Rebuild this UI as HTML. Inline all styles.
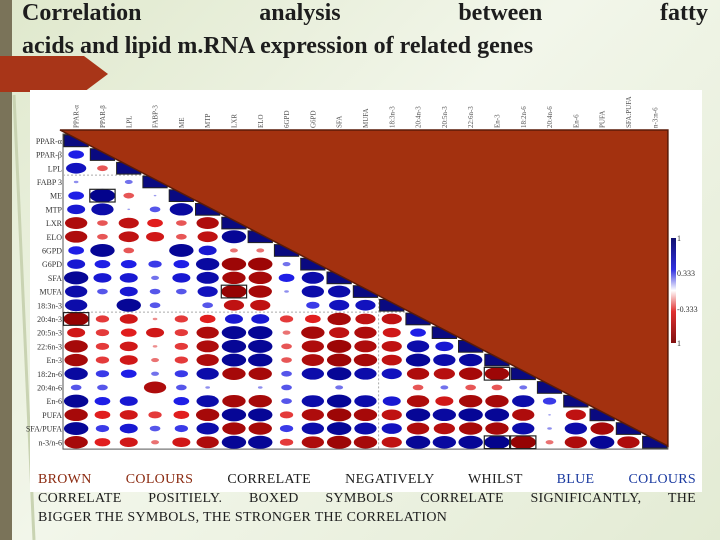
<!DOCTYPE html>
<html><head><meta charset="utf-8">
<style>
body{margin:0;width:720px;height:540px;overflow:hidden;background:#e6edd8;font-family:"Liberation Serif",serif;position:relative}
#bg{position:absolute;left:0;top:0;width:720px;height:540px;background:linear-gradient(135deg,#dfe8cc 0%,#f2f6ea 45%,#e3ebd4 100%)}
#strip{position:absolute;left:0;top:0;width:12px;height:540px;background:#7a7359}
.title{position:absolute;left:22px;width:686px;font-weight:bold;font-size:24px;color:#1d1d1d;line-height:33px}
.cap{position:absolute;left:38px;width:658px;font-size:14px;color:#1d1d1d;text-align:justify;text-align-last:justify;letter-spacing:0.3px}
</style></head><body>
<div id="bg"></div>
<div id="strip"></div>
<svg style="position:absolute;left:0;top:0" width="720" height="540">
<line x1="14" y1="95" x2="34" y2="540" stroke="#c9d3b2" stroke-width="3"/>
<polygon points="0,56 84,56 108,74 84,92 0,92" fill="#a83518"/>
</svg>
<div class="title" style="top:-3px;text-align:justify;text-align-last:justify">Correlation analysis between fatty</div>
<div class="title" style="top:30px">acids and lipid m.RNA expression of related genes</div>
<svg id="chart" style="position:absolute;left:0;top:0" width="720" height="540"></svg>
<div class="cap" style="top:472px"><span style="color:#8b2a10">BROWN COLOURS</span> CORRELATE NEGATIVELY WHILST <span style="color:#1a3aa0">BLUE COLOURS</span></div>
<div class="cap" style="top:491px">CORRELATE POSITIELY. BOXED SYMBOLS CORRELATE SIGNIFICANTLY, THE</div>
<div class="cap" style="top:510px;text-align-last:left">BIGGER THE SYMBOLS, THE STRONGER THE CORRELATION</div>
<script>
const rowLabels=["PPAR-α","PPAR-β","LPL","FABP 3","ME","MTP","LXR","ELO","6GPD","G6PD","SFA","MUFA","18:3n-3","20:4n-3","20:5n-3","22:6n-3","En-3","18:2n-6","20:4n-6","En-6","PUFA","SFA/PUFA","n-3/n-6"];
const colLabels=["PPAR-α","PPAR-β","LPL","FABP-3","ME","MTP","LXR","ELO","6GPD","G6PD","SFA","MUFA","18:3n-3","20:4n-3","20:5n-3","22:6n-3","En-3","18:2n-6","20:4n-6","En-6","PUFA","SFA:PUFA","n-3:n-6"];
const corr=[
[],
[0.5],
[0.7,-0.3],
[0.1,0,0.2],
[0.5,0.95,-0.3,0.05],
[0.6,0.8,0.05,0.3,0.85],
[-0.8,-0.3,-0.7,-0.5,-0.3,-0.8],
[-0.8,-0.3,-0.7,-0.6,-0.3,-0.7,0.9],
[0.5,0.9,-0.3,0,0.9,0.6,-0.2,-0.2],
[0.6,0.5,0.5,0.4,0.5,0.85,-0.9,-0.9,0.2],
[0.9,0.6,0.6,0.2,0.6,0.8,-0.85,-0.85,0.5,0.8],
[0.8,0.3,0.6,0.3,0.3,0.7,-0.95,-0.85,0.1,0.8,0.8],
[0.8,0,0.9,0.3,0,0.3,-0.7,-0.7,0,0.4,0.7,0.7],
[-0.95,-0.4,-0.6,-0.1,-0.4,-0.5,0.6,0.6,-0.4,-0.5,-0.85,-0.7,-0.7],
[-0.6,-0.4,-0.5,-0.6,-0.4,-0.8,0.9,0.9,-0.2,-0.85,-0.7,-0.8,-0.6,0.5],
[-0.85,-0.4,-0.6,-0.1,-0.4,-0.8,0.9,0.9,-0.3,-0.8,-0.9,-0.8,-0.7,0.8,0.6],
[-0.85,-0.4,-0.6,-0.2,-0.4,-0.8,0.9,0.9,-0.3,-0.8,-0.9,-0.85,-0.7,0.9,0.8,0.85],
[0.85,0.4,0.5,0.2,0.4,0.8,-0.85,-0.85,0.3,0.8,0.9,0.8,0.7,-0.8,-0.75,-0.85,-0.9],
[0.3,0.3,0,-0.8,0.3,0.1,0,0.1,0.3,0,0.2,0,0,-0.3,0.2,-0.3,-0.3,0.2],
[0.9,0.5,0.6,0,0.5,0.8,-0.85,-0.85,0.3,0.8,0.9,0.8,0.6,-0.8,-0.6,-0.85,-0.85,0.8,0.4],
[-0.85,-0.5,-0.6,-0.4,-0.5,-0.85,0.9,0.9,-0.4,-0.8,-0.9,-0.85,-0.7,0.9,0.85,0.9,0.9,-0.8,0.05,-0.7],
[0.9,0.4,0.6,0.3,0.4,0.8,-0.85,-0.85,0.4,0.8,0.9,0.8,0.7,-0.8,-0.75,-0.85,-0.85,0.8,0.1,0.8,-0.85],
[-0.85,-0.5,-0.6,-0.2,-0.6,-0.8,0.9,0.9,-0.4,-0.8,-0.9,-0.85,-0.7,0.9,0.85,0.9,0.95,-0.95,-0.2,-0.8,0.9,-0.8]
];
const boxed=[[4,1],[11,6],[13,0],[17,16],[22,16],[22,17]];
const NS="http://www.w3.org/2000/svg";
const svg=document.getElementById('chart');
function mk(t,a){const e=document.createElementNS(NS,t);for(const k in a)e.setAttribute(k,a[k]);svg.appendChild(e);return e;}
const X0=63,Y0=134,CW=26.3,RH=13.7,N=23;
const cx=c=>X0+CW*(c+0.5), cy=r=>Y0+RH*(r+0.5);
function lerp(a,b,t){return Math.round(a+(b-a)*t);}
function col(v){const a=Math.min(1,Math.abs(v));
 if(v>=0){ if(a<0.5){const t=a/0.5;return `rgb(${lerp(170,30,t)},${lerp(170,30,t)},${lerp(240,230,t)})`;}
  const t=(a-0.5)/0.5;return `rgb(${lerp(30,0,t)},${lerp(30,0,t)},${lerp(230,130,t)})`;}
 if(a<0.5){const t=a/0.5;return `rgb(${lerp(240,225,t)},${lerp(170,30,t)},${lerp(170,30,t)})`;}
 const t=(a-0.5)/0.5;return `rgb(${lerp(225,140,t)},${lerp(30,0,t)},${lerp(30,0,t)})`;}
const bgRect=mk('rect',{x:30,y:90,width:672,height:402,fill:'#fff'});


const frame=mk('rect',{x:X0,y:Y0,width:CW*N,height:RH*N,fill:'none',stroke:'#555','stroke-width':1});


mk('line',{x1:X0,y1:Y0+RH*3,x2:X0+CW*13,y2:Y0+RH*3,stroke:'#aaa','stroke-dasharray':'2,2'});
mk('line',{x1:X0,y1:Y0+RH*13,x2:X0+CW*13,y2:Y0+RH*13,stroke:'#aaa','stroke-dasharray':'2,2'});
mk('line',{x1:X0+CW*12,y1:Y0+RH*12,x2:X0+CW*12,y2:Y0+RH*N,stroke:'#aaa','stroke-dasharray':'2,2'});
rowLabels.forEach((l,r)=>{const t=mk('text',{x:X0-1,y:cy(r)+3,'text-anchor':'end','font-size':8,fill:'#333'});t.textContent=l;

});
colLabels.forEach((l,c)=>{const t=mk('text',{x:0,y:0,'text-anchor':'start','font-size':7,fill:'#555',transform:`translate(${cx(c)+2.5},${Y0-6}) rotate(-90)`});t.textContent=l;

});
corr.forEach((row,r)=>{row.forEach((v,c)=>{const a=Math.abs(v);if(a<0.03)return;
 const s=Math.pow(a,0.75);
 const e=mk('ellipse',{cx:cx(c),cy:cy(r),rx:13.2*s,ry:7*s,fill:col(v)});
 
 });
 const d=mk('rect',{x:X0+CW*r+1,y:Y0+RH*r+1,width:CW-2,height:RH-2,fill:'#0a0a80',stroke:'#222'});
 
 });
boxed.forEach(([r,c])=>{const b=mk('rect',{x:X0+CW*c+0.5,y:Y0+RH*r+0.5,width:CW-1,height:RH-1,fill:'none',stroke:'#222','stroke-width':1.2});

});
const tri=mk('polygon',{points:`${X0-3},${Y0-4} ${X0+CW*N},${Y0-4} ${X0+CW*N},${Y0+RH*N-3}`,fill:'#a3310f',stroke:'#5a1a08','stroke-width':1.5});


const defs=mk('defs',{});defs.innerHTML='<linearGradient id="cb" x1="0" y1="0" x2="0" y2="1"><stop offset="0" stop-color="#101070"/><stop offset="0.3" stop-color="#3030e0"/><stop offset="0.5" stop-color="#fff"/><stop offset="0.7" stop-color="#e03030"/><stop offset="1" stop-color="#801010"/></linearGradient>';
const cb=mk('rect',{x:671,y:238,width:5,height:105,fill:'url(#cb)'});


[["1",241],["0.333",276],["-0.333",312],["1",346]].forEach(([s,y])=>{const t=mk('text',{x:677,y:y,'font-size':8,fill:'#333'});t.textContent=s;

});
</script>
</body></html>
